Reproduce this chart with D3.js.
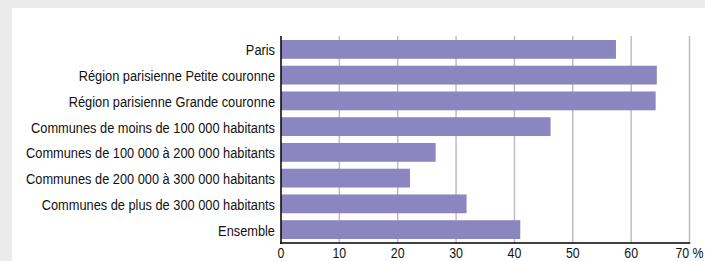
<!DOCTYPE html>
<html>
<head>
<meta charset="utf-8">
<script src="https://cdn.jsdelivr.net/npm/d3@7"></script>
<style>
  body { margin: 0; background: #ebebeb; }
  svg { display: block; }
</style>
</head>
<body>
<svg id="chart"></svg>
<script>
const categories = [
  "Paris",
  "Région parisienne Petite couronne",
  "Région parisienne Grande couronne",
  "Communes de moins de 100 000 habitants",
  "Communes de 100 000 à 200 000 habitants",
  "Communes de 200 000 à 300 000 habitants",
  "Communes de plus de 300 000 habitants",
  "Ensemble"
];
const values = [57.4, 64.4, 64.2, 46.2, 26.5, 22.1, 31.8, 41.0];
const tickValues = [0, 10, 20, 30, 40, 50, 60, 70];

const width = 705, height = 261;
const margin = {top: 36, left: 281, right: 16, bottom: 18};
const font = "'Liberation Sans', Arial, sans-serif";
const squeeze = 0.826; // narrow-looking text

const svg = d3.select("#chart")
  .attr("width", width)
  .attr("height", height);

// white panel
svg.append("rect")
  .attr("x", 12).attr("y", 8)
  .attr("width", width - 12).attr("height", height - 8)
  .attr("fill", "#fff");

const x = d3.scaleLinear()
  .domain([0, 70])
  .range([margin.left, 689.5]);

const y = d3.scaleBand()
  .domain(categories)
  .range([margin.top, height - margin.bottom])
  .paddingInner(0.27)
  .paddingOuter(0.155);

const axisY = height - margin.bottom;

// grid
svg.append("g")
  .selectAll("line")
  .data(tickValues.slice(1))
  .enter().append("line")
  .attr("x1", d => x(d)).attr("x2", d => x(d))
  .attr("y1", margin.top).attr("y2", axisY)
  .attr("stroke", "#bdbdbd")
  .attr("stroke-width", 1.5);

// bars
svg.append("g")
  .selectAll("rect")
  .data(values)
  .enter().append("rect")
  .attr("x", x(0))
  .attr("y", (d, i) => y(categories[i]))
  .attr("width", d => x(d) - x(0))
  .attr("height", y.bandwidth())
  .attr("fill", "#8b86bf");

// category labels
svg.append("g")
  .selectAll("text")
  .data(categories)
  .enter().append("text")
  .attr("transform", d => `translate(275,${y(d) + y.bandwidth() / 2}) scale(${squeeze},1)`)
  .attr("dy", "0.38em")
  .attr("text-anchor", "end")
  .attr("font-family", font)
  .attr("font-size", 15.5)
  .attr("fill", "#111")
  .text(d => d);

// axes lines
svg.append("line")
  .attr("x1", x(0)).attr("x2", x(0))
  .attr("y1", margin.top).attr("y2", axisY + 1)
  .attr("stroke", "#000").attr("stroke-width", 1.5);
svg.append("line")
  .attr("x1", x(0) - 0.75).attr("x2", x(70) + 0.75)
  .attr("y1", axisY).attr("y2", axisY)
  .attr("stroke", "#000").attr("stroke-width", 1.5);

// tick labels
svg.append("g")
  .selectAll("text")
  .data(tickValues)
  .enter().append("text")
  .attr("transform", d => `translate(${x(d)},258) scale(${squeeze},1)`)
  .attr("text-anchor", "middle")
  .attr("font-family", font)
  .attr("font-size", 15)
  .attr("fill", "#111")
  .text(d => d === 70 ? "70 %" : d);
</script>
</body>
</html>
